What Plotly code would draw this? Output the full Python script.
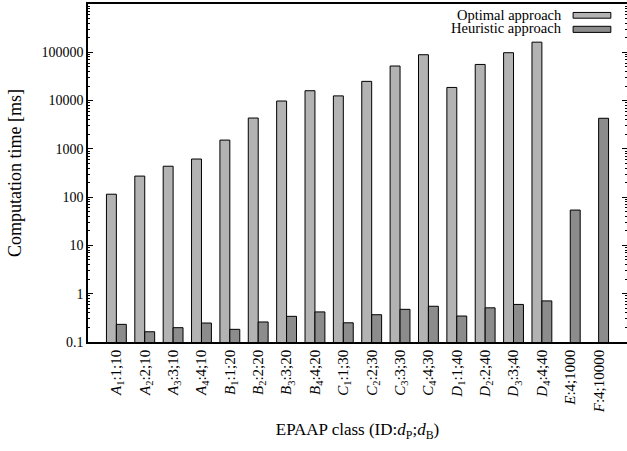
import plotly.graph_objects as go

categories = [
    "<i>A</i><sub>1</sub>:1;10", "<i>A</i><sub>2</sub>:2;10", "<i>A</i><sub>3</sub>:3;10", "<i>A</i><sub>4</sub>:4;10",
    "<i>B</i><sub>1</sub>:1;20", "<i>B</i><sub>2</sub>:2;20", "<i>B</i><sub>3</sub>:3;20", "<i>B</i><sub>4</sub>:4;20",
    "<i>C</i><sub>1</sub>:1;30", "<i>C</i><sub>2</sub>:2;30", "<i>C</i><sub>3</sub>:3;30", "<i>C</i><sub>4</sub>:4;30",
    "<i>D</i><sub>1</sub>:1;40", "<i>D</i><sub>2</sub>:2;40", "<i>D</i><sub>3</sub>:3;40", "<i>D</i><sub>4</sub>:4;40",
    "<i>E</i>:4;1000", "<i>F</i>:4;10000",
]
optimal = [115, 273, 437, 616, 1520, 4350, 9800, 16000, 12500,
           25000, 52000, 89000, 18700, 56000, 98000, 162000, None, None]
heuristic = [0.232, 0.163, 0.198, 0.247, 0.183, 0.26, 0.34, 0.42, 0.25,
             0.367, 0.475, 0.55, 0.345, 0.51, 0.6, 0.71, 54, 4300]
y_tickvals = [0.1, 1, 10, 100, 1000, 10000, 100000]
y_ticktext = ["0.1", "1", "10", "100", "1000", "10000", "100000"]

FONT = "Liberation Serif"

fig = go.Figure()
fig.add_trace(go.Bar(x=categories, y=optimal, name="Optimal approach",
                     marker=dict(color="#b3b3b3", line=dict(color="black", width=1))))
fig.add_trace(go.Bar(x=categories, y=heuristic, name="Heuristic approach",
                     marker=dict(color="#8c8c8c", line=dict(color="black", width=1))))

fig.update_layout(
    width=627, height=451,
    margin=dict(l=88, r=0, t=4, b=109),
    paper_bgcolor="white", plot_bgcolor="white",
    barmode="group", bargap=0.3, bargroupgap=0,
    showlegend=False,
    font=dict(family=FONT, size=14, color="black"),
)
fig.update_xaxes(
    type="category", range=[-1, 18], automargin=False,
    showline=True, linecolor="black", linewidth=1.5, mirror=True,
    ticks="", tickangle=-90, tickfont=dict(family=FONT, size=15, color="black"),
    title=dict(text="EPAAP class (ID:<i>d</i><sub>P</sub>;<i>d</i><sub>B</sub>)",
               font=dict(family=FONT, size=17, color="black"), standoff=11),
    showgrid=False,
)
fig.update_yaxes(
    type="log", range=[-1, 6], automargin=False,
    tickvals=y_tickvals, ticktext=y_ticktext,
    showline=True, linecolor="black", linewidth=1.5, mirror="ticks",
    ticks="inside", ticklen=5, tickcolor="black",
    minor=dict(ticks="inside", ticklen=2, tickcolor="black", dtick="D1", showgrid=False),
    tickfont=dict(family=FONT, size=14, color="black"),
    title=dict(text="Computation time [ms]", font=dict(family=FONT, size=18, color="black"), standoff=15),
    showgrid=False, zeroline=False,
)

# legend drawn as text + swatches (text left of the swatch, as in the original)
leg = [("Optimal approach", "#b3b3b3", 0.968, 0.975, 0.958),
       ("Heuristic approach", "#8c8c8c", 0.928, 0.934, 0.916)]
for text, color, ty, y0, y1 in leg:
    fig.add_annotation(xref="paper", yref="paper", x=0.883, y=ty, text=text,
                       showarrow=False, xanchor="right", yanchor="middle",
                       font=dict(family=FONT, size=14.5, color="black"))
    fig.add_shape(type="rect", xref="paper", yref="paper", x0=0.900, x1=0.970,
                  y0=y1, y1=y0, fillcolor=color, line=dict(color="black", width=1))

fig.write_html("out.html", config={"displayModeBar": False},
               post_script="document.body.style.margin='0';")
